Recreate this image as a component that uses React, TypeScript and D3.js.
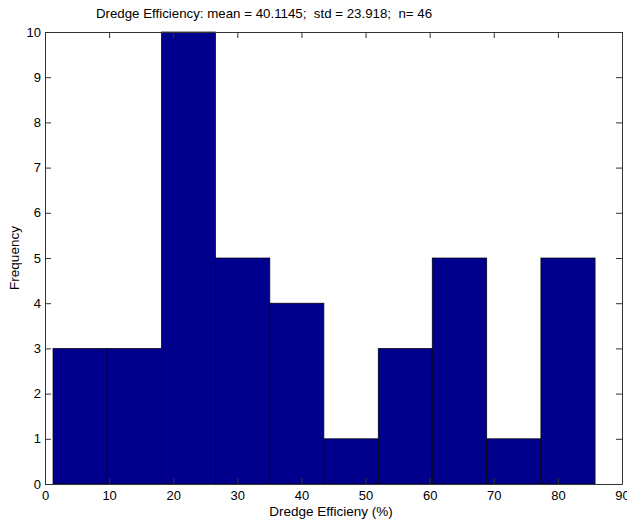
import { useEffect, useRef } from "react";
import * as d3 from "d3";

// histogram
const binEdges = [1.25, 9.7, 18.16, 26.6, 35.07, 43.5, 51.98, 60.4, 68.9, 77.35, 85.8];
const counts = [3, 3, 10, 5, 4, 1, 3, 5, 1, 5];
const xTicks = [0, 10, 20, 30, 40, 50, 60, 70, 80, 90];
const yTicks = [0, 1, 2, 3, 4, 5, 6, 7, 8, 9, 10];
const titleText = "Dredge Efficiency: mean = 40.1145;  std = 23.918;  n= 46";

const W = 627;
const H = 523;
const left = 45, right = 622, top = 32, bottom = 484;
const FONT = "'Liberation Sans', Arial, sans-serif";

const App = () => {
    const svgRef = useRef<SVGSVGElement>(null);

    useEffect(() => {
        const svg = d3.select(svgRef.current);
        svg.selectAll("*").remove();

        const x = d3.scaleLinear().domain([0, 90]).range([left, right]);
        const y = d3.scaleLinear().domain([0, 10]).range([bottom, top]);

        svg.append("rect")
            .attr("width", W).attr("height", H).attr("fill", "#fff");

        // bars
        svg.append("g")
            .selectAll("rect")
            .data(counts)
            .join("rect")
            .attr("x", (_, i) => x(binEdges[i]))
            .attr("y", d => y(d))
            .attr("width", (_, i) => x(binEdges[i + 1]) - x(binEdges[i]))
            .attr("height", d => y(0) - y(d))
            .attr("fill", "#00008c")
            .attr("stroke", "#000")
            .attr("stroke-width", 0.7);

        // axes, matlab style: ticks inward, box around
        const tick = 6;
        const axCol = "#333";
        const xAxis = d3.axisBottom(x).tickValues(xTicks).tickSizeInner(-tick).tickSizeOuter(0).tickPadding(7);
        const yAxis = d3.axisLeft(y).tickValues(yTicks).tickSizeInner(-tick).tickSizeOuter(0).tickPadding(4);

        const gx = svg.append("g").attr("transform", `translate(0,${bottom})`).call(xAxis);
        const gy = svg.append("g").attr("transform", `translate(${left},0)`).call(yAxis);
        const gxTop = svg.append("g").attr("transform", `translate(0,${top})`)
            .call(d3.axisTop(x).tickValues(xTicks).tickSizeInner(-tick).tickSizeOuter(0).tickFormat(() => ""));
        const gyRight = svg.append("g").attr("transform", `translate(${right},0)`)
            .call(d3.axisRight(y).tickValues(yTicks).tickSizeInner(-tick).tickSizeOuter(0).tickFormat(() => ""));

        [gx, gy, gxTop, gyRight].forEach(g => {
            g.select(".domain").attr("stroke", axCol);
            g.selectAll(".tick line").attr("stroke", axCol);
            g.selectAll(".tick text")
                .attr("fill", "#000")
                .style("font-family", FONT)
                .style("font-size", "13px");
        });

        // title and labels
        svg.append("text")
            .attr("x", 264).attr("y", 18)
            .attr("text-anchor", "middle")
            .style("font-family", FONT).style("font-size", "13.3px")
            .style("white-space", "pre")
            .text(titleText);

        svg.append("text")
            .attr("x", 331).attr("y", 516)
            .attr("text-anchor", "middle")
            .style("font-family", FONT).style("font-size", "13.5px")
            .text("Dredge Efficieny (%)");

        svg.append("text")
            .attr("transform", `translate(19,${(top + bottom) / 2}) rotate(-90)`)
            .attr("text-anchor", "middle")
            .style("font-family", FONT).style("font-size", "13.5px")
            .text("Frequency");
    }, []);

    return (
        <svg
            ref={svgRef}
            width={W}
            height={H}
            style={{ position: "absolute", left: 0, top: 0 }}
        />
    );
};

export default App;
